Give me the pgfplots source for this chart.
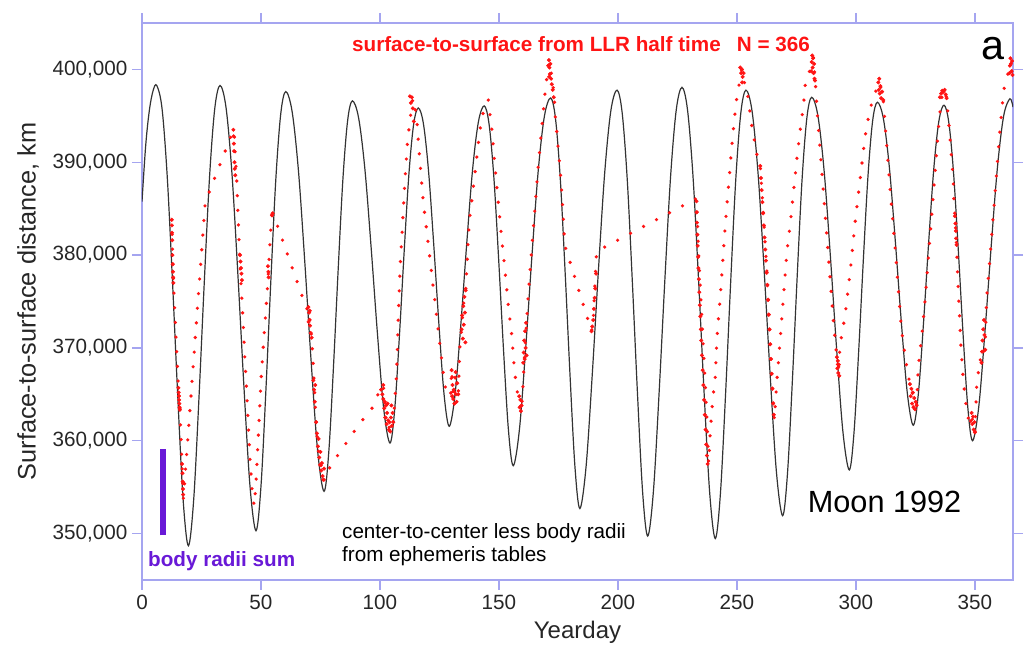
\documentclass[border=0pt]{standalone}
\usepackage{pgfplots}
\pgfplotsset{compat=1.18}
\usepackage{fontspec}
\setmainfont{Liberation Sans}
\definecolor{frame}{RGB}{165,165,240}
\definecolor{radii}{RGB}{105,25,215}
\definecolor{llr}{RGB}{255,20,20}
\pgfplotstableread{
x y
0 385750
1.55 391800
3.1 395600
4.65 397700
6.2 398270
8.42 395790
10.63 388350
12.85 376950
15.07 364560
17.28 353650
19.5 348690
21.72 353650
23.93 364560
26.15 376950
28.37 388350
30.58 395790
32.8 398270
35.32 395870
37.83 388680
40.35 377650
42.87 365660
45.38 355110
47.9 350310
49.98 355040
52.07 365450
54.15 377270
56.23 388150
58.32 395250
60.4 397610
63.08 395460
65.77 389000
68.45 379090
71.13 368330
73.82 358860
76.5 354550
78.48 358760
80.47 368010
82.45 378520
84.43 388200
86.42 394510
88.4 396610
91.03 394770
93.67 389240
96.30 380760
98.93 371550
101.57 363440
104.2 359750
106.18 363360
108.17 371300
110.15 380320
112.13 388620
114.12 394040
116.1 395840
118.27 394130
120.43 388980
122.60 381100
124.77 372530
126.93 364990
129.1 361560
131.55 365010
134.0 372600
136.45 381230
138.9 389170
141.35 394340
143.8 396070
145.83 394130
147.87 388320
149.9 379400
151.93 369710
153.97 361190
156.0 357310
158.62 361270
161.23 369990
163.85 379890
166.47 389000
169.08 394940
171.7 396920
173.75 394710
175.8 388080
177.85 377910
179.9 366850
181.95 357120
184.0 352700
186.6 357210
189.2 367120
191.8 378390
194.4 388760
197.0 395520
199.6 397770
201.75 395370
203.9 388160
206.05 377110
208.2 365100
210.35 354530
212.5 349730
214.9 354560
217.3 365200
219.7 377280
222.1 388400
224.5 395650
226.9 398070
229.23 395640
231.57 388350
233.9 377170
236.23 365020
238.57 354320
240.9 349460
243.05 354290
245.2 364920
247.35 377000
249.5 388110
251.65 395360
253.8 397770
256.37 395480
258.93 388600
261.5 378060
264.07 366600
266.63 356510
269.2 351930
271.23 356440
273.27 366350
275.3 377620
277.33 387990
279.37 394750
281.4 397000
284.03 394990
286.67 388970
289.3 379740
291.93 369710
294.57 360870
297.2 356860
299.17 360820
301.13 369530
303.1 379430
305.07 388540
307.03 394480
309.0 396460
311.52 394720
314.03 389500
316.55 381500
319.07 372800
321.58 365150
324.1 361670
326.25 365120
328.4 372700
330.55 381320
332.7 389250
334.85 394430
337.0 396150
339 394340
341 388920
343 380610
345 371570
347 363620
349 360000
351.62 363680
354.23 371790
356.85 381000
359.47 389470
362.08 395000
364.7 396840
366 395950
}\ephem
\pgfplotstableread{
x y
12.5 383800
13.2 377100
14.9 367800
15.9 363400
17.4 353800
26.6 385750
27.2 386100
38.4 393450
38.7 393300
39.8 388000
40.5 383400
41.2 378800
42.6 372300
43.3 368400
44.0 365300
44.7 361500
45.4 358000
46.2 354900
47.1 353000
47.8 354900
49.0 361100
50.0 366500
51.0 370300
52.0 373800
53.1 378000
53.8 381500
54.5 384200
55.2 384400
69.2 374200
69.9 374400
71.3 371100
71.8 368800
72.4 366100
73.0 362600
73.8 359600
74.8 357600
75.5 357200
76.6 355700
79.2 357300
91.6 361900
96.5 363400
100.5 365800
101.4 366000
102.5 362500
103.7 361200
104.6 362500
105.6 362000
106.0 363400
107.0 367300
107.7 373400
108.5 378800
109.5 383400
110.5 388100
111.6 392300
112.6 394500
113.7 396700
114.0 396900
115.4 395000
116.2 391900
117.2 388800
118.2 385700
119.6 382700
121.0 379600
122.4 376500
123.8 373400
125.2 370300
126.6 367300
128.0 364900
129.7 364900
130.1 367600
131.0 364500
132.0 366500
132.9 365000
133.6 370300
134.3 372000
135.0 374500
136.1 376500
137.1 381900
137.8 384200
139.2 387300
140.6 390400
142.0 393500
143.4 395400
144.8 396500
145.5 396700
146.9 393800
148.3 389600
149.7 385700
151.1 381900
152.5 378400
153.9 374600
155.3 371500
156.4 368000
157.4 365700
158.5 364200
159.5 363200
160.2 366500
161.6 372700
162.3 375700
163.7 380400
165.1 385000
166.5 389600
167.9 393500
169.3 397300
170.7 400400
171.4 400800
172.0 399600
173.2 397300
173.5 395400
174.2 393500
174.9 391500
175.6 389600
176.3 387200
177.0 384200
177.6 381100
188.9 371800
189.6 372900
191.0 380400
233.0 386100
233.6 382000
234.3 378000
235.0 374500
235.8 370400
236.7 366000
237.5 361500
238.1 357600
238.8 361100
239.9 364600
240.9 366900
241.6 371100
242.7 374600
243.7 378000
244.7 381900
245.8 385400
246.9 388800
247.9 391900
248.9 394600
249.7 396500
250.7 398100
252.1 400000
253.5 398100
254.2 397900
254.9 396500
256.3 393800
258.4 390800
259.8 389600
261.2 384000
262.6 378000
263.6 372000
264.7 366500
265.7 362300
266.8 366500
268.2 371100
269.6 375700
271.0 380400
272.4 383400
273.8 386900
275.2 390400
276.6 393500
278.0 396200
278.7 398300
280.7 400000
281.4 400800
282.1 401300
283.2 397700
283.5 396200
284.2 393800
284.9 391500
285.6 389200
286.3 386900
287.0 384600
287.7 382300
288.4 380000
289.1 377700
289.8 375300
290.5 373000
291.2 371100
291.9 369200
292.6 367300
293.3 370300
295.4 373400
297.5 378000
299.6 383400
302.4 389600
303.8 392700
305.9 395800
307.3 396700
309.4 398600
310.5 398000
311.5 396700
312.2 394200
313.6 389600
314.3 387300
315.7 383100
317.1 378800
318.2 375000
319.2 371900
320.6 369200
322.0 366900
323.4 365700
324.5 364000
325.5 363800
326.2 368000
327.6 371100
329.0 375000
330.4 379600
331.8 384200
333.2 388800
334.6 393500
335.3 395400
336.0 396900
337.3 397800
338.1 396900
338.8 395000
339.5 392700
340.2 390400
340.9 388100
341.2 385700
341.6 384200
342.3 381100
342.7 378000
343.4 374200
344.1 370300
345.1 366500
346.5 363400
347.9 361500
348.6 363000
349.5 361200
350.0 360900
350.7 365700
352.1 368800
352.8 368400
354.3 370500
354.9 375300
356.3 379600
357.7 384200
359.1 388800
360.5 393500
361.2 395400
361.9 397300
362.6 398500
363.3 399200
364.0 399600
364.7 400400
365.4 400000
366.0 399600
}\llrpath
\pgfplotstableread{
x y
12.5 383800
12.55 383200
12.6 382400
12.7 381600
12.8 380000
12.9 379000
13.0 378200
13.1 377600
13.2 377000
15.3 365700
15.4 365200
15.5 364800
15.6 364400
15.7 364000
15.8 363600
15.9 363400
16.8 357500
17.0 356500
17.1 355600
17.2 354800
17.3 354200
38.4 393500
38.5 392800
38.6 392000
38.7 391200
38.9 390000
39.0 389300
39.2 388600
41.2 380000
41.4 379300
41.6 378600
41.8 378000
42.0 377300
52.9 378800
53.1 378200
53.2 377600
54.6 384300
54.9 384500
69.9 374400
70.2 373800
70.4 373000
70.6 372400
70.9 371600
71.3 371100
70.0 372800
70.5 374000
72.0 366500
72.3 365500
72.6 364200
72.8 366000
73.2 362000
73.5 360800
73.9 359400
74.2 360200
74.5 358200
74.8 357400
75.0 358800
75.3 356800
75.6 357600
75.9 356200
76.2 355800
76.5 357000
100.5 365500
101.0 365000
101.4 366000
101.4 364500
101.8 363500
102.2 362500
102.5 363800
102.8 361800
103.0 363000
103.4 362200
103.7 361200
104.0 362000
104.3 361000
104.6 362500
105.0 361600
105.3 363000
105.6 362000
102.0 364200
103.2 364000
104.8 363800
112.6 397100
113.0 396400
113.4 397000
113.8 395800
114.2 394400
130.1 367600
130.5 366000
130.8 364500
131.0 365500
131.3 364000
131.6 366800
131.9 365000
132.2 364200
132.5 366200
132.9 365000
130.3 364800
131.8 367400
134.3 372000
134.5 373500
134.8 371000
135.0 374500
135.2 372500
135.5 375500
135.7 373800
136.0 376200
135.9 370600
158.5 364800
158.7 363600
159.0 364400
159.2 363200
159.5 363800
160.2 368400
160.4 369500
160.6 370800
160.8 368800
161.0 371800
161.2 370000
161.4 372700
161.6 369200
170.7 400400
171.0 401000
171.2 400200
171.4 399500
171.6 400600
171.9 399000
172.2 398400
172.6 397800
173.0 397000
171.1 399200
188.9 371800
189.2 372300
189.6 373000
189.9 374200
190.2 375400
190.5 376400
190.8 378000
233.0 385800
233.1 384600
233.2 383500
233.4 382200
233.5 381000
233.7 379800
233.8 378600
234.0 377400
234.2 376000
234.4 374600
234.6 373400
234.8 372000
235.0 370800
235.3 369200
235.6 367600
235.9 366000
236.2 364400
236.5 362800
236.8 361200
237.1 359600
237.4 358400
237.7 357500
251.4 400200
251.8 399600
252.1 400000
252.4 399200
252.8 399600
252.2 398600
259.8 389600
260.1 388300
260.4 387000
260.7 385700
261.0 384500
261.3 383200
261.6 381900
261.9 380600
262.2 379400
262.5 378100
262.8 376800
263.1 375200
263.4 373600
263.7 372000
264.0 370400
264.3 368800
264.6 367200
264.9 365600
265.2 364000
265.5 362800
281.4 400800
281.6 401500
281.8 400200
282.0 401200
282.2 399600
282.4 400600
282.6 399000
282.8 398800
281.2 399800
292.0 369000
292.2 367800
292.4 368600
292.6 367300
292.8 368200
293.0 367000
309.4 398600
309.6 397800
309.8 399000
310.0 397400
310.3 398200
310.6 396900
311.0 397600
311.5 396700
322.7 366100
323.0 364800
323.3 365600
323.6 364000
323.9 365200
324.2 363600
324.5 364600
324.8 363400
325.1 364200
325.5 363800
335.3 397000
335.8 397400
336.3 397700
336.8 397600
337.3 397800
337.7 397300
338.1 396900
341.6 384200
341.8 383400
342.0 382600
342.1 381800
342.3 381100
348.6 363000
348.9 361800
349.2 362600
349.5 361200
349.8 362000
350.0 360900
352.8 368400
353.0 369600
353.2 370800
353.5 372000
353.8 373000
354.0 371400
354.3 369800
364.7 400400
364.9 401200
365.1 400600
365.4 399800
365.6 400900
365.8 399400
364.5 399600
}\llrcluster
\begin{document}
\begin{tikzpicture}
\useasboundingbox (-106.5pt,-49.5pt) rectangle (665.25pt,435pt);
\begin{axis}[
  at={(0pt,0pt)}, anchor=south west,
  scale only axis, width=653.25pt, height=417.75pt,
  xmin=0, xmax=366, ymin=345000, ymax=405000,
  xtick={0,50,...,350}, ytick={350000,360000,370000,380000,390000,400000},
  scaled y ticks=false, scaled x ticks=false,
  tick align=outside, major tick length=7.5pt,
  axis line style={draw=frame, line width=1.1pt},
  tick style={draw=frame, line width=1.1pt},
  /pgf/number format/.cd, fixed, precision=0, 1000 sep={,}, assume math mode=true,
  /pgfplots/.cd,
  tick label style={font=\fontsize{15.5}{18}\selectfont, text=black!85},
  xlabel={Yearday},
  ylabel={Surface-to-surface distance, km},
  xlabel style={font=\fontsize{18}{21}\selectfont, at={(axis description cs:0.5,-0.0934)}, anchor=center, text=black!85},
  ylabel style={font=\fontsize{19}{22}\selectfont, at={(axis description cs:-0.1309,0.5)}, anchor=center, text=black!85},
]
\addplot[black!80, line width=0.9pt, smooth, tension=0.55] table[x=x,y=y] {\ephem};
\addplot[llr, line width=2.7pt, dash pattern=on 0pt off 11pt, line cap=round] table[x=x,y=y] {\llrpath};
\addplot[only marks, mark=*, mark size=1.3pt, llr, mark options={draw=none, fill=llr}] table[x=x,y=y] {\llrcluster};
\addplot[radii, line width=4.5pt] coordinates {(8.8,349800) (8.8,359100)};
\node[anchor=base west, text=llr, font=\bfseries\fontsize{15.5}{18}\selectfont, inner sep=0pt] at (axis cs:88.2,401900) {surface-to-surface from LLR half time};
\node[anchor=base west, text=llr, font=\bfseries\fontsize{15.5}{18}\selectfont, inner sep=0pt] at (axis cs:249.9,401900) {N = 366};
\node[anchor=base, font=\fontsize{31}{34}\selectfont, inner sep=0pt] at (axis cs:357.4,401040) {a};
\node[anchor=base west, font=\fontsize{23}{26}\selectfont, inner sep=0pt] at (axis cs:279.7,352275) {Moon 1992};
\node[anchor=base west, font=\fontsize{15.5}{18}\selectfont, inner sep=0pt] at (axis cs:84.0,349484) {center-to-center less body radii};
\node[anchor=base west, font=\fontsize{15.5}{18}\selectfont, inner sep=0pt] at (axis cs:84.0,347014) {from ephemeris tables};
\node[anchor=base west, text=radii, font=\bfseries\fontsize{15.5}{18}\selectfont, inner sep=0pt] at (axis cs:2.5,346477) {body radii sum};
\end{axis}
\end{tikzpicture}
\end{document}
